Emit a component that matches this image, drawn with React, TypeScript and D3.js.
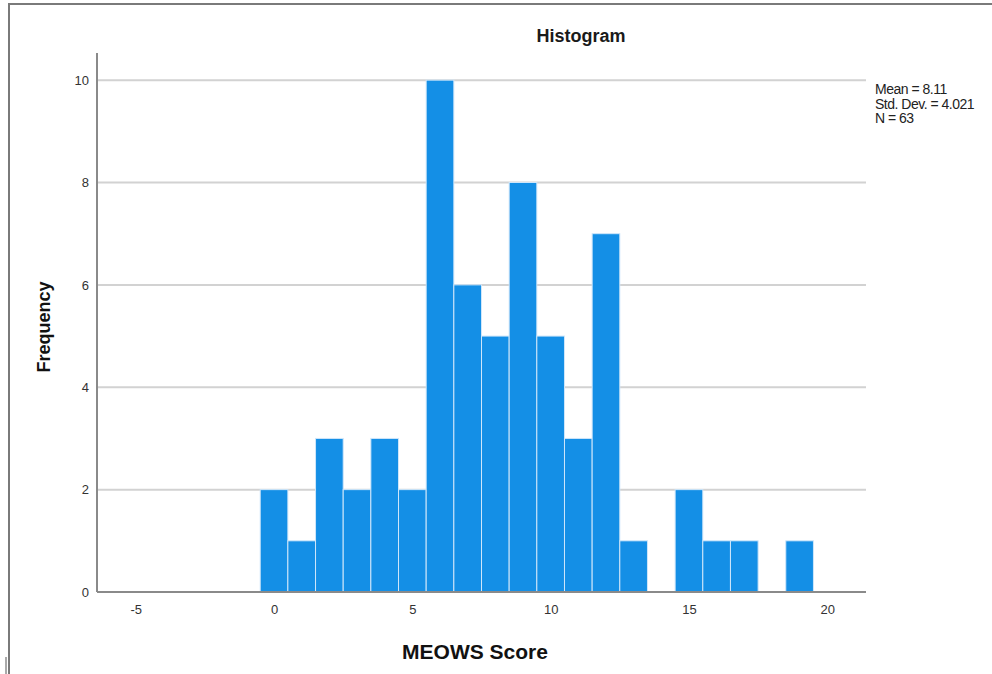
import React, { useRef, useEffect } from 'react';
import * as d3 from 'd3';

// score bins (bin centre) and how many patients fall in each
const scores = [0, 1, 2, 3, 4, 5, 6, 7, 8, 9, 10, 11, 12, 13, 14, 15, 16, 17, 18, 19];
const counts = [2, 1, 3, 2, 3, 2, 10, 6, 5, 8, 5, 3, 7, 1, 0, 2, 1, 1, 0, 1];
const xTicks = [-5, 0, 5, 10, 15, 20];
const yTicks = [0, 2, 4, 6, 8, 10];
const statLines = ['Mean = 8.11', 'Std. Dev. = 4.021', 'N = 63'];

const App = () => {
  const svgRef = useRef<SVGSVGElement>(null);

  useEffect(() => {
    const svg = d3.select(svgRef.current);
    svg.selectAll('*').remove();

    const width = 992;
    const height = 674;
    const left = 97, right = 866, top = 53, bottom = 592;

    const x = d3.scaleLinear().domain([-6.4, 21.4]).range([left, right]);
    const y = d3.scaleLinear().domain([0, 10.53]).range([bottom, top]);

    svg.attr('width', width).attr('height', height);
    svg.append('rect').attr('width', width).attr('height', height).attr('fill', '#fff');

    // picture frame (top + left edges only)
    svg.append('path')
      .attr('d', `M9,${height} V4 H${width}`)
      .attr('fill', 'none')
      .attr('stroke', '#7a7a7a')
      .attr('stroke-width', 2);
    svg.append('line')
      .attr('x1', 6).attr('x2', 6).attr('y1', 657).attr('y2', height)
      .attr('stroke', '#555').attr('stroke-width', 1);

    // gridlines
    svg.append('g')
      .selectAll('line')
      .data(yTicks.filter(d => d > 0))
      .join('line')
      .attr('x1', left).attr('x2', right)
      .attr('y1', d => y(d)).attr('y2', d => y(d))
      .attr('stroke', '#d2d2d2')
      .attr('stroke-width', 2);

    // bars
    svg.append('g')
      .selectAll('rect')
      .data(scores.map((s, i) => ({ s, c: counts[i] })).filter(d => d.c > 0))
      .join('rect')
      .attr('x', d => x(d.s - 0.5))
      .attr('width', d => x(d.s + 0.5) - x(d.s - 0.5))
      .attr('y', d => y(d.c))
      .attr('height', d => y(0) - y(d.c))
      .attr('fill', '#148fe6')
      .attr('stroke', '#cfe6fa')
      .attr('stroke-width', 1);

    // axes
    const fmt = (d: any) => String(d);
    const yAxis = d3.axisLeft(y).tickValues(yTicks).tickFormat(fmt).tickSize(0).tickPadding(8);
    const xAxis = d3.axisBottom(x).tickValues(xTicks).tickFormat(fmt).tickSize(0).tickPadding(13);

    const gy = svg.append('g').attr('transform', `translate(${left},0)`).call(yAxis);
    const gx = svg.append('g').attr('transform', `translate(0,${bottom})`).call(xAxis);
    [gx, gy].forEach(g => {
      g.select('.domain').attr('stroke', '#8a8a8a').attr('stroke-width', 2);
      g.selectAll('text')
        .attr('font-family', 'Liberation Sans, Arial, sans-serif')
        .attr('font-size', 13)
        .attr('fill', '#333');
    });
    gy.select('.domain').attr('d', `M0,${top}V${bottom}`);
    gx.select('.domain').attr('d', `M${left},0H${right}`);

    // titles
    svg.append('text')
      .attr('x', 581).attr('y', 42)
      .attr('text-anchor', 'middle')
      .attr('font-family', 'Liberation Sans, Arial, sans-serif')
      .attr('font-size', 18).attr('font-weight', 'bold')
      .attr('fill', '#1a1a1a')
      .text('Histogram');

    svg.append('text')
      .attr('x', 475).attr('y', 659)
      .attr('text-anchor', 'middle')
      .attr('font-family', 'Liberation Sans, Arial, sans-serif')
      .attr('font-size', 21).attr('font-weight', 'bold')
      .attr('fill', '#111')
      .text('MEOWS Score');

    svg.append('text')
      .attr('transform', 'translate(50,327) rotate(-90)')
      .attr('text-anchor', 'middle')
      .attr('font-family', 'Liberation Sans, Arial, sans-serif')
      .attr('font-size', 18).attr('font-weight', 'bold')
      .attr('fill', '#111')
      .text('Frequency');

    // summary stats
    svg.append('g')
      .selectAll('text')
      .data(statLines)
      .join('text')
      .attr('x', 875)
      .attr('y', (d, i) => 94 + i * 14.5)
      .attr('font-family', 'Liberation Sans, Arial, sans-serif')
      .attr('font-size', 14)
      .attr('letter-spacing', -0.5)
      .attr('fill', '#222')
      .text(d => d);
  }, []);

  return (
    <svg ref={svgRef} style={{ position: 'absolute', left: 0, top: 0, display: 'block' }}></svg>
  );
};

export default App;
